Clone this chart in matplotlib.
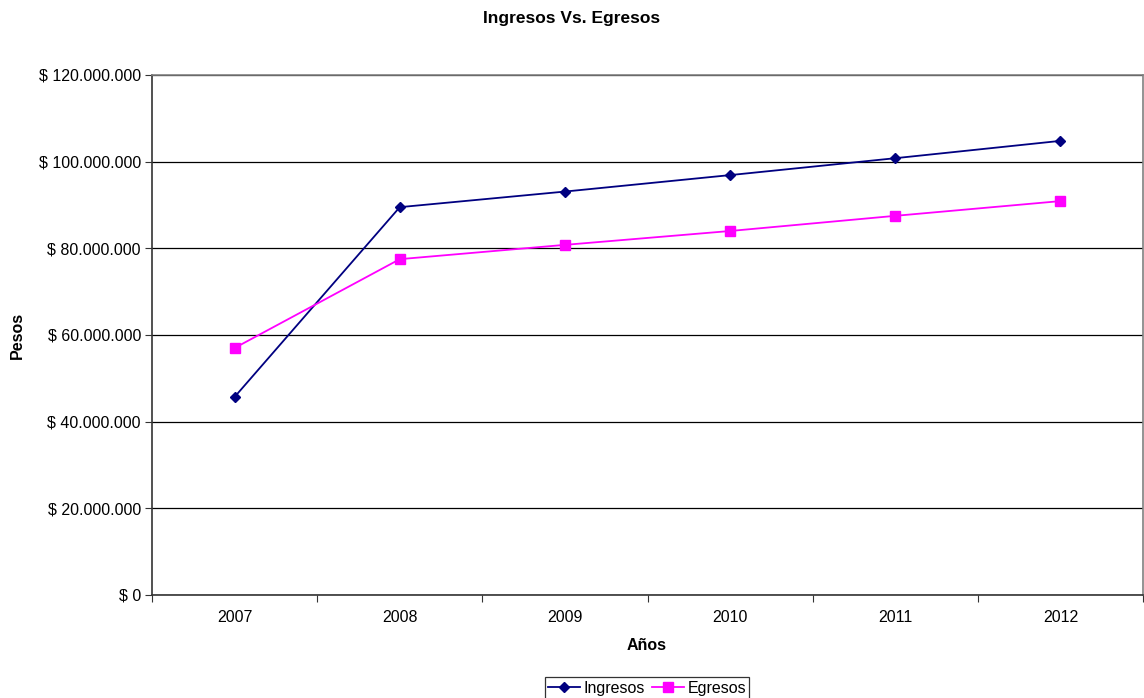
import matplotlib.pyplot as plt
from matplotlib.ticker import FuncFormatter, FixedLocator

plt.rcParams['font.family'] = ['Liberation Sans', 'DejaVu Sans']

# Años y montos (pesos)
years = ['2007', '2008', '2009', '2010', '2011', '2012']
ingresos = [45700000, 89500000, 93100000, 96900000, 100800000, 104800000]
egresos = [57000000, 77500000, 80800000, 84000000, 87500000, 90900000]


def pesos(v, pos):
    return '$ ' + f'{int(v):,}'.replace(',', '.')


fig = plt.figure(figsize=(11.44, 6.98), dpi=100)
ax = fig.add_axes([152 / 1144, 103 / 698, 991 / 1144, 520 / 698])

x = range(len(years))
ax.plot(x, ingresos, color='#000080', marker='D', markersize=5.5, linewidth=1.3, label='Ingresos')
ax.plot(x, egresos, color='#FF00FF', marker='s', markersize=6.5, linewidth=1.3, label='Egresos')

ax.set_xlim(-0.5, len(years) - 0.5)
ax.set_ylim(0, 120000000)
ax.set_yticks(range(0, 120000001, 20000000))
ax.yaxis.set_major_formatter(FuncFormatter(pesos))
ax.yaxis.grid(True, color='black', linewidth=0.9)
ax.set_axisbelow(True)

# etiquetas de año centradas, marcas entre categorías
ax.xaxis.set_major_locator(FixedLocator([i - 0.5 for i in range(len(years) + 1)]))
ax.xaxis.set_major_formatter(FuncFormatter(lambda v, p: ''))
ax.xaxis.set_minor_locator(FixedLocator(list(x)))
ax.set_xticklabels(years, minor=True)
ax.tick_params(axis='x', which='minor', length=0, pad=11, labelsize=11.5)
ax.tick_params(axis='x', which='major', length=5, direction='out', color='#333333')
ax.tick_params(axis='y', length=5, direction='out', labelsize=11.5, color='#333333', pad=3)

for side in ['top', 'right']:
    ax.spines[side].set_color('#808080')
    ax.spines[side].set_linewidth(1.2)
for side in ['left', 'bottom']:
    ax.spines[side].set_color('#333333')
    ax.spines[side].set_linewidth(1.2)

fig.text(0.5, 1 - 18 / 698, 'Ingresos Vs. Egresos', ha='center', va='center',
         fontsize=12.5, fontweight='bold')
fig.text(17 / 1144, 1 - 335 / 698, 'Pesos', ha='center', va='center',
         rotation=90, fontsize=11.5, fontweight='bold')
fig.text(647 / 1144, 1 - 646 / 698, 'Años', ha='center', va='center',
         fontsize=11.5, fontweight='bold')

leg = fig.legend(loc='center', bbox_to_anchor=(647 / 1144, 1 - 688 / 698), ncol=2,
                 frameon=True, fancybox=False, fontsize=11.5, handlelength=2.0,
                 handletextpad=0.2, columnspacing=0.5, borderpad=0.2,
                 edgecolor='black')
leg.get_frame().set_linewidth(0.9)

fig.savefig('out.png', dpi=100)
